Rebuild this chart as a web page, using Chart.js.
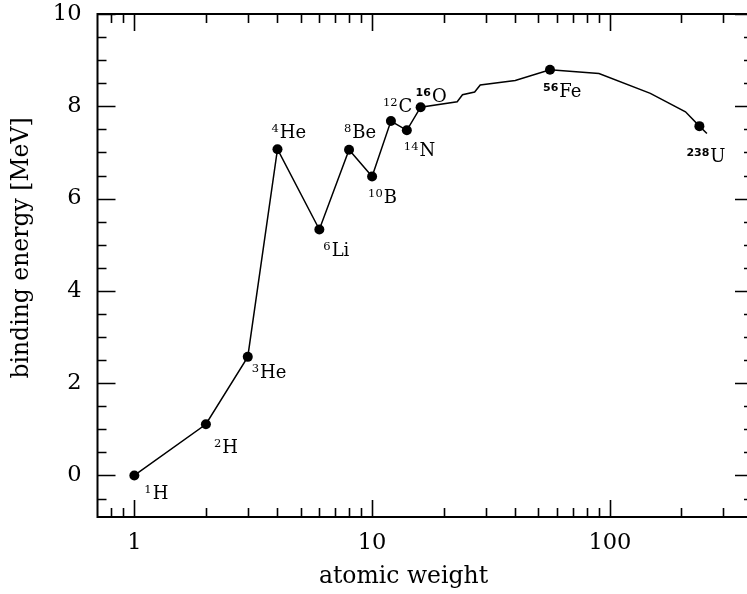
<!DOCTYPE html>
<html>
<head>
<meta charset="utf-8">
<script src="https://cdn.jsdelivr.net/npm/chart.js@4/dist/chart.umd.min.js"></script>
<style>
  html, body { margin: 0; padding: 0; overflow: hidden; background: #fff; }
  canvas { display: block; }
</style>
</head>
<body>
<canvas id="chart" width="760" height="594"></canvas>
<script>
// Labelled nuclei: mass number, element symbol, binding energy per nucleon (MeV)
const isotopeMass   = [1, 2, 3, 4, 6, 8, 10, 12, 14, 16, 56, 238];
const isotopeSymbol = ['H', 'H', 'He', 'He', 'Li', 'Be', 'B', 'C', 'N', 'O', 'Fe', 'U'];
const isotopeEnergy = [0, 1.11, 2.57, 7.07, 5.33, 7.06, 6.48, 7.68, 7.48, 7.98, 8.79, 7.57];

// Additional points of the curve between and beyond the labelled nuclei
const trendMass   = [22.8, 24, 27, 28.5, 40, 90, 148, 208, 256];
const trendEnergy = [8.10, 8.25, 8.31, 8.46, 8.56, 8.71, 8.28, 7.88, 7.41];

// Axis ticks
const xTickLabels = [1, 10, 100];
const xMinorTicks = [0.8, 0.9, 2, 3, 4, 5, 6, 7, 8, 9, 20, 30, 40, 50, 60, 70, 80, 90, 200, 300];
const yTickLabels = [0, 2, 4, 6, 8, 10];
const yMinorTicks = [-0.5, 0.5, 1, 1.5, 2.5, 3, 3.5, 4.5, 5, 5.5, 6.5, 7, 7.5, 8.5, 9, 9.5];

// Label placement relative to each marker: [dx to text start, dy to baseline]
const labelPlacement = [
  [10, 24], [8, 29], [4, 21], [-6, -11], [4, 26], [-5, -12],
  [-4, 27], [-8, -9], [-3, 26], [-5, -5], [-7, 27], [-13, 36]
];
// mass numbers set in a bold sans face
const boldSansMasses = [16, 56, 238];

const FONT_SERIF = '"DejaVu Serif", serif';

// Curve through all nuclei, ordered by mass
const curvePoints = isotopeMass.map((m, i) => ({ x: m, y: isotopeEnergy[i] }))
  .concat(trendMass.map((m, i) => ({ x: m, y: trendEnergy[i] })))
  .sort((a, b) => a.x - b.x);
const markerPoints = isotopeMass.map((m, i) => ({ x: m, y: isotopeEnergy[i] }));

// Closed frame with inward ticks on all four sides
const framePlugin = {
  id: 'frame',
  afterDraw(chart) {
    const { ctx, chartArea: a, scales: { x, y } } = chart;
    ctx.save();
    ctx.strokeStyle = '#000';
    ctx.lineWidth = 1.6;
    ctx.beginPath();
    const xt = (vals, len) => vals.forEach(v => {
      const px = Math.round(x.getPixelForValue(v)) + 0.5;
      ctx.moveTo(px, a.bottom); ctx.lineTo(px, a.bottom - len);
      ctx.moveTo(px, a.top); ctx.lineTo(px, a.top + len);
    });
    const yt = (vals, len) => vals.forEach(v => {
      const py = Math.round(y.getPixelForValue(v)) + 0.5;
      ctx.moveTo(a.left, py); ctx.lineTo(a.left + len, py);
      ctx.moveTo(a.right, py); ctx.lineTo(a.right - len, py);
    });
    xt(xTickLabels, 17); xt(xMinorTicks, 9);
    yt(yTickLabels, 18); yt(yMinorTicks, 9);
    ctx.stroke();
    ctx.lineWidth = 2;
    ctx.strokeRect(a.left, a.top, a.right - a.left, a.bottom - a.top);

    // axis titles
    ctx.fillStyle = '#000';
    ctx.font = '23.5px ' + FONT_SERIF;
    ctx.textAlign = 'center';
    ctx.textBaseline = 'alphabetic';
    ctx.fillText('atomic weight', a.left + 306, 583);
    ctx.translate(28, a.top + 234);
    ctx.rotate(-Math.PI / 2);
    ctx.fillText('binding energy [MeV]', 0, 0);
    ctx.restore();
  }
};

// Isotope labels: superscript mass number followed by the symbol
const labelPlugin = {
  id: 'isotopeLabels',
  afterDatasetsDraw(chart) {
    const { ctx, scales: { x, y } } = chart;
    ctx.save();
    ctx.fillStyle = '#000';
    ctx.textBaseline = 'alphabetic';
    ctx.textAlign = 'left';
    isotopeMass.forEach((m, i) => {
      const px = x.getPixelForValue(m);
      const py = y.getPixelForValue(isotopeEnergy[i]);
      const [dx, dy] = labelPlacement[i];
      const sx = px + dx, base = py + dy;
      ctx.font = boldSansMasses.includes(m)
        ? 'bold 11px "DejaVu Sans", sans-serif'
        : '11.5px ' + FONT_SERIF;
      const sup = String(m);
      ctx.fillText(sup, sx, base - 6);
      const w = ctx.measureText(sup).width;
      ctx.font = '18px ' + FONT_SERIF;
      ctx.fillText(isotopeSymbol[i], sx + w + 1, base);
    });
    ctx.restore();
  }
};

new Chart(document.getElementById('chart'), {
  type: 'scatter',
  data: {
    datasets: [
      {
        type: 'line',
        data: curvePoints,
        borderColor: '#000',
        borderWidth: 1.5,
        pointRadius: 0,
        tension: 0,
        fill: false
      },
      {
        data: markerPoints,
        pointRadius: 5,
        pointBackgroundColor: '#000',
        pointBorderWidth: 0,
        showLine: false
      }
    ]
  },
  options: {
    responsive: false,
    animation: false,
    devicePixelRatio: 1,
    layout: { padding: { left: 0, top: 14, right: 7, bottom: 0 } },
    plugins: { legend: { display: false }, tooltip: { enabled: false } },
    scales: {
      x: {
        type: 'logarithmic',
        min: 0.7,
        max: 400,
        grid: { display: false, drawTicks: false },
        border: { display: false },
        afterBuildTicks: s => { s.ticks = xTickLabels.map(v => ({ value: v })); },
        afterFit: s => { s.height = 77; s.paddingLeft = 0; s.paddingRight = 0; },
        ticks: {
          callback: v => String(v),
          autoSkip: false,
          maxRotation: 0,
          padding: 13,
          color: '#000',
          font: { family: FONT_SERIF, size: 22.5 }
        }
      },
      y: {
        min: -0.9,
        max: 10,
        grid: { display: false, drawTicks: false },
        border: { display: false },
        afterBuildTicks: s => { s.ticks = yTickLabels.map(v => ({ value: v })); },
        afterFit: s => { s.width = 97.5; s.paddingTop = 0; s.paddingBottom = 0; },
        ticks: {
          callback: v => String(v),
          padding: 16,
          color: '#000',
          font: { family: FONT_SERIF, size: 22.5 }
        }
      }
    }
  },
  plugins: [framePlugin, labelPlugin]
});
</script>
</body>
</html>
